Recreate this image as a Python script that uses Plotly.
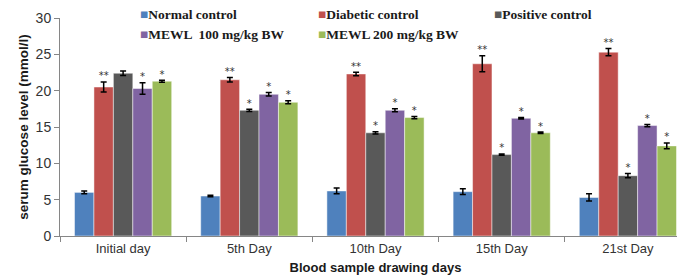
import plotly.graph_objects as go

categories = ["Initial day", "5th Day", "10th Day", "15th Day", "21st Day"]
series_names = ["Normal control", "Diabetic control", "Positive control",
                "MEWL  100 mg/kg BW", "MEWL 200 mg/kg BW"]
colors = ["#4F81BD", "#C0504D", "#595959", "#8064A2", "#9BBB59"]

normal = [6.0, 5.5, 6.2, 6.1, 5.3]
normal_err = [0.2, 0.1, 0.4, 0.4, 0.5]
diabetic = [20.5, 21.5, 22.3, 23.7, 25.3]
diabetic_err = [0.7, 0.3, 0.25, 1.1, 0.5]
positive = [22.4, 17.3, 14.2, 11.2, 8.3]
positive_err = [0.3, 0.15, 0.15, 0.1, 0.3]
mewl100 = [20.3, 19.5, 17.3, 16.2, 15.2]
mewl100_err = [0.8, 0.25, 0.2, 0.1, 0.15]
mewl200 = [21.3, 18.4, 16.3, 14.2, 12.4]
mewl200_err = [0.15, 0.2, 0.15, 0.1, 0.4]

normal_marks = ["", "", "", "", ""]
diabetic_marks = ["**", "**", "**", "**", "**"]
positive_marks = ["", "*", "*", "*", "*"]
mewl100_marks = ["*", "*", "*", "*", "*"]
mewl200_marks = ["*", "*", "*", "*", "*"]

values = [normal, diabetic, positive, mewl100, mewl200]
errors = [normal_err, diabetic_err, positive_err, mewl100_err, mewl200_err]
marks = [normal_marks, diabetic_marks, positive_marks, mewl100_marks, mewl200_marks]

fig = go.Figure()
for i, (name, v, e, c) in enumerate(zip(series_names, values, errors, colors)):
    fig.add_trace(go.Bar(
        x=categories, y=v, name=name, marker_color=c,
        marker_line=dict(color="rgba(255,255,255,0.8)", width=0.6),
        offsetgroup=str(i), showlegend=False,
        error_y=dict(type="data", array=e, visible=True, color="black",
                     thickness=1.5, width=3),
    ))
for i, (v, e, m) in enumerate(zip(values, errors, marks)):
    fig.add_trace(go.Scatter(
        x=categories, y=[a + b for a, b in zip(v, e)],
        mode="text", text=m, textposition="top center",
        textfont=dict(family="DejaVu Sans", size=10, color="#333333"),
        offsetgroup=str(i), showlegend=False, hoverinfo="skip",
    ))

# legend drawn as text rows (two rows, three columns)
legend_cols = [130, 308, 484]
legend_rows = [7, 27]
for k, (name, c) in enumerate(zip(series_names, colors)):
    col, row = k % 3, k // 3
    fig.add_annotation(
        xref="paper", yref="paper",
        x=(legend_cols[col] - 52) / (683 - 52),
        y=1 - (legend_rows[row] - 10) / (228 - 10),
        xanchor="left", yanchor="middle", showarrow=False,
        text=f"<span style='color:{c}'>■</span><b>{name}</b>",
        font=dict(family="Liberation Serif", size=13.5, color="#1a1a1a"),
    )

fig.update_layout(
    width=685, height=279,
    margin=dict(l=52, r=2, t=10, b=51),
    paper_bgcolor="white", plot_bgcolor="white",
    barmode="group", bargap=0.23, bargroupgap=0,
    scattermode="group", scattergap=0.23,
    font=dict(family="Liberation Sans", color="#333333"),
    showlegend=False,
    xaxis=dict(
        showline=True, linecolor="#868686", linewidth=1,
        ticks="outside", tickson="boundaries", ticklen=5, tickcolor="#868686",
        tickfont=dict(size=13, color="#333333"),
        title=dict(text="<b>Blood sample drawing days</b>", font=dict(size=13, color="#1a1a1a"), standoff=8),
    ),
    yaxis=dict(
        range=[0, 30], dtick=5, showgrid=False, zeroline=False,
        showline=True, linecolor="#868686", linewidth=1,
        ticks="outside", ticklen=5, tickcolor="#868686",
        tickfont=dict(size=14, color="#333333"),
        title=dict(text="<b>serum glucose level (mmol/l)</b>", font=dict(size=13.5, color="#1a1a1a"), standoff=3),
    ),
)

fig.write_html("out.html")
